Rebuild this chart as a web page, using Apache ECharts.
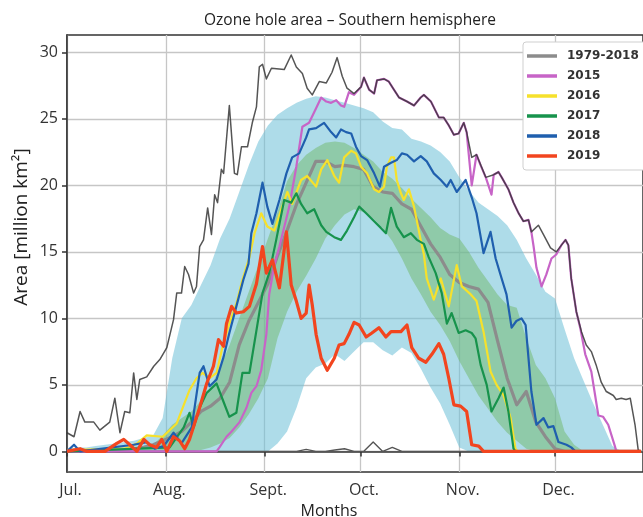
<!DOCTYPE html>
<html>
<head>
<meta charset="utf-8">
<script src="https://cdn.jsdelivr.net/npm/echarts@6/dist/echarts.min.js"></script>
<style>
html,body{margin:0;padding:0;background:#fff;}
#chart{width:643px;height:517px;}
</style>
</head>
<body>
<div id="chart"></div>
<script>
// x = day counted from 1 July
const monthTicks = [0,31,62,92,123,153];
const monthLabels = ['Jul.','Aug.','Sept.','Oct.','Nov.','Dec.'];
const yTicks = [0,5,10,15,20,25,30];

// climatology 1979-2018 sampled every 3 days
const days = [0,3,6,9,12,15,18,21,24,27,30,33,36,39,42,45,48,51,54,57,60,63,66,69,72,75,78,81,84,87,90,93,96,99,102,105,108,111,114,117,120,123,126,129,132,135,138,141,144,147,150,153,156,159,162,165,168,171,174,177,180];
const recMin = [0,0,0,0,0,0,0,0,0,0,0,0,0,0,0,0,0,0,0,0,0,0,0,0,0,0.15,0,0,0.1,0.2,0,0,0.7,0,0.3,0,0,0,0,0,0,0,0,0,0,0,0,0,0,0,0,0,0,0,0,0,0,0,0,0,0];
const meanVals = [0.05,0.05,0.05,0.05,0.05,0.05,0.1,0.2,0.3,0.5,0.8,1.1,1.5,2.2,3.0,3.4,4.0,5.2,8.0,9.8,11.2,12.6,14.7,16.6,18.6,20.2,21.8,21.8,21.4,21.5,21.4,21.2,19.9,19.5,19.4,18.6,18.2,16.9,15.6,14.6,13.3,12.7,12.4,12.2,11.2,8.3,5.5,3.5,4.5,2.2,1.1,0.2,0,0,0,0,0,0,0,0,0];
const p10 = [0,0,0,0,0,0,0,0,0,0,0,0,0,0,0,0,0,0,0,0,0,0,0.6,1.5,3.3,5.5,6.3,6.6,7.3,6.8,7.5,8.2,8.2,7.6,7.2,7.8,7.4,6.2,4.8,3.6,2.0,0.3,0,0,0,0,0,0,0,0,0,0,0,0,0,0,0,0,0,0,0];
const p90 = [0.2,0.3,0.3,0.4,0.5,0.6,0.7,0.8,1.0,1.2,2.5,7.0,10.0,11.0,12.5,14.0,16.0,17.5,19.5,21.5,23.3,24.5,25.3,25.8,26.2,26.5,26.7,26.6,26.4,26.2,26.0,25.8,25.5,24.8,24.3,24.2,23.5,23.3,23.0,22.5,21.8,20.6,19.6,18.7,18.2,17.7,17.0,15.9,14.5,13.3,12.0,11.5,9.2,7.0,5.3,3.6,2.0,0.4,0,0,0];
const p30 = [0,0,0,0,0,0,0,0,0,0,0,0,0,0,0.1,0.3,0.6,1.0,1.8,2.8,4.0,5.5,8.5,10.5,12.0,13.2,14.5,16.0,17.0,17.8,18.2,18.0,17.5,16.8,15.8,14.5,13.0,11.8,10.5,9.5,8.3,6.8,5.5,4.2,3.2,2.2,1.4,0.8,0.2,0,0,0,0,0,0,0,0,0,0,0,0];
const p70 = [0,0,0,0,0,0,0,0,0.2,0.5,1.2,2.0,2.5,3.0,3.8,4.8,6.3,8.0,10.0,12.0,14.0,16.0,18.0,20.3,21.5,22.3,22.8,23.2,23.3,23.2,22.8,22.3,21.8,21.0,20.5,19.8,19.0,18.3,17.6,16.8,16.3,16.0,15.0,13.8,12.8,11.8,11.0,10.8,8.5,6.5,5.5,4.0,1.5,0.5,0,0,0,0,0,0,0];

// record maximum 1979-2018
const maxDays = [0,2.2,4.1,5.6,8.4,10.3,13.4,15,16.6,18.1,19.7,20.9,21.9,22.8,25,27.2,29.1,31.3,33.4,34.4,35.9,36.9,38.1,39.7,40.6,41.6,42.8,44.1,45.3,46.3,47.2,48.4,49.1,50.9,52.5,53.4,54.7,56.6,58.1,59.4,60.3,61.3,62.5,64.1,68.1,70.3,71.9,73.8,75.3,76.9,79.1,81.3,83.1,84.7,86.3,87.8,90,92.2,93.1,94.7,96.3,97.2,99.4,100.9,102.5,104.1,106.6,108.8,110.9,111.9,114.1,116.6,118.1,119.7,121.3,122.8,124.4,125.3,126.9,128.4,131.3,133.8,135.3,136.3,138.4,140,141.6,143.1,144.7,145.6,147.8,149.4,151.6,153.4,156.3,157.2,158.1,159.7,161.3,162.8,164.4,165.9,167.5,169.1,171.3,172.2,173.8,175.3,176.6,178.1,179.1,180];
const maxVals = [1.4,1.1,3.0,2.2,2.2,1.6,2.2,4.0,1.4,3.0,2.9,5.9,3.9,5.4,5.6,6.4,6.9,7.8,9.9,11.9,11.9,13.9,13.3,11.9,12.4,15.4,15.9,18.3,16.3,19.3,18.7,21.2,20.9,26.0,20.9,20.8,22.9,22.9,24.7,25.9,28.9,29.1,28.0,28.8,28.7,29.8,28.9,28.4,27.3,26.8,27.8,27.7,28.5,29.6,28.2,27.3,26.9,27.4,28.1,27.2,26.9,27.9,28.0,27.8,27.2,26.6,26.3,26.0,26.6,26.8,26.3,25.1,25.1,24.5,23.8,23.9,24.7,24.0,22.1,22.3,20.6,20.8,21.0,20.6,19.7,18.7,17.9,17.3,17.4,16.5,17.0,16.3,15.3,15.0,15.9,15.5,13.0,10.5,9.0,8.0,7.5,6.5,5.2,4.5,4.2,3.9,4.0,3.9,4.0,2.0,0.1,0];

// individual years
const d2015 = [0,46.9,47.8,50,51.6,54.1,56.3,57.8,59.4,60.9,62.5,63.4,65,66.6,69.7,71.9,73.8,75.9,78.1,79.7,81.3,82.8,84.4,85.9,86.9,88.4,90,92.2,93.1,94.7,96.3,97.2,99.4,100.9,102.5,104.1,106.6,108.8,110.9,111.9,114.1,116.6,118.1,119.7,121.3,122.8,124.4,125.3,126.9,128.4,129.7,131.3,133.1,133.8,135.3,136.3,138.4,140,141.6,143.1,144.7,145.6,146.3,147.2,148.8,150.3,151.9,153.4,155,156.3,157.2,158.1,159.7,160.9,162.5,164.4,166.6,168.1,169.7,171.9,172.2,180];
const v2015 = [0,0,0.3,1.1,1.5,2.2,3.3,4.4,4.9,6.1,8.8,11.8,14.0,15.4,18.4,21.4,24.4,24.7,25.8,26.6,26.3,26.2,26.4,26.0,25.9,27.0,26.8,27.4,28.1,27.2,26.9,27.9,28.0,27.8,27.2,26.6,26.3,26.0,26.6,26.8,26.3,25.1,25.1,24.5,23.8,23.9,24.7,24.0,20.0,22.3,21.5,20.6,19.3,20.8,21.0,20.6,19.7,18.7,17.9,17.3,17.4,16.5,15.4,13.8,12.4,13.3,14.5,14.8,15.5,15.9,15.5,13.0,10.5,9.3,7.3,6.0,2.7,2.6,2.0,0.3,0,0];
const d2016 = [0,18,22,25,30,34.4,38.4,40.6,42.5,44.7,46.9,48.8,50.9,53.1,55,57.2,58.8,60.9,62.8,65,67.2,69.1,70.6,73.4,75.3,78.1,79.7,81.6,83.8,85.3,86.9,89.1,90.6,92.2,94.1,96.3,97.8,99.4,100.3,101.6,102.5,103.4,104.7,105.6,107.2,108.8,110.9,111.9,112.8,115,117.2,119.7,122.2,123.8,126.6,128.4,130.6,132.8,134.7,136.9,139.1,140.6,141.3,180];
const v2016 = [0.1,0.2,0.6,1.2,1.1,2.1,4.6,5.5,5.9,5.5,5.9,7.9,9.6,11.1,12.9,14.6,16.4,17.9,16.9,16.6,18.2,19.5,18.6,20.4,20.7,19.9,21.2,21.9,20.7,20.2,22.1,22.6,22.4,21.4,20.9,19.7,19.5,19.9,21.4,22.1,22.1,20.4,19.4,18.9,19.7,18.4,15.9,14.8,13.0,11.4,13.0,10.9,14.0,12.4,11.8,11.3,9.0,6.0,5.0,4.2,2.5,0.2,0,0];
const d2017 = [0,32.2,36.6,38.4,39.7,41.6,43.8,46.9,48.8,50.9,53.1,55,57.2,59.4,61.3,63.4,65.6,68.1,70.3,71.9,73.4,75.3,77.5,79.7,81.3,83.8,85.9,87.8,90,91.6,93.8,96.3,98.4,100,101.6,103.4,105.6,107.8,109.7,111.9,113.4,115.6,117.5,119.1,120.6,122.8,125,126.9,128.1,129.7,131.6,133.1,135.3,136.9,138.4,140,140.6,180];
const v2017 = [0,0.3,1.8,2.9,1.8,3.3,4.4,5.1,3.9,2.6,2.9,5.9,5.9,9.1,11.9,13.4,15.9,18.9,18.7,19.4,18.6,17.9,18.2,17.0,16.5,16.1,15.9,16.6,17.6,18.4,17.9,17.3,16.8,16.4,18.3,16.9,16.1,16.4,15.9,15.6,14.6,13.4,11.9,9.6,10.4,8.9,9.1,8.9,8.5,6.5,5.0,3.0,4.0,4.8,3.0,0.2,0,0];
const d2018 = [0,2.2,4.1,20.9,25,27.5,30.3,33.4,35.9,39.1,41.6,42.8,44.7,46.9,49.1,50.9,53.1,55.3,56.9,57.8,59.4,61.3,62.8,64.4,66.6,68.8,70.6,72.8,75,75.9,78.1,80.6,82.8,84.4,85.9,87.5,89.1,90.6,92.2,94.1,96.3,98.1,99.4,101.6,103.4,105,106.6,108.8,110.9,112.8,115,117.2,119.1,120.3,122.2,125,126.9,128.4,130.6,132.8,134.4,135.9,137.8,139.4,140.9,142.5,143.8,144.7,145.6,147.2,149.4,150.9,152.5,154.1,156.6,158.1,159.4,180];
const v2018 = [0,0.5,0,0.5,0.7,0.2,0.4,1.4,0.6,1.8,5.9,6.4,4.9,5.4,7.1,8.9,10.9,12.9,14.1,16.4,17.9,20.2,18.4,17.1,18.9,20.9,22.1,22.4,23.6,24.2,24.3,24.7,24.0,23.6,24.2,24.0,23.9,22.9,22.2,21.9,20.9,19.9,21.4,21.7,21.9,22.4,22.3,21.8,22.2,21.8,20.9,20.4,19.9,20.4,19.5,20.4,19.1,17.9,14.9,16.5,14.5,13.3,11.8,9.3,9.8,10.0,9.5,7.0,4.5,2.0,2.5,1.8,1.9,0.7,0.5,0.3,0,0];
const d2019 = [0,4.1,6.3,11.9,15.6,17.8,19.7,21.9,24.1,25.9,28.1,29.7,31.3,33.4,35.3,36.9,38.4,40,41.6,43.8,45.9,47.5,49.1,50,51.6,53.1,55.3,57.2,59.4,61.3,62.5,64.4,66.6,68.8,70.3,71.9,73.4,75,75.9,76.9,78.1,79.7,81.6,83.8,85.3,86.9,88.4,90,91.6,93.8,95.6,97.8,100,101.6,104.7,106.6,108.1,110.3,112.5,114.4,116.6,118.1,119.7,121.3,123.4,125.3,126.9,129.1,130.6,180];
const v2019 = [0,0.2,0,0,0.6,0.9,0.5,0,0.9,0.5,0.3,0.9,0,1.1,0.8,0.2,0.9,2.1,3.3,5.1,6.4,8.4,7.9,9.6,10.9,10.4,10.5,10.9,12.6,15.4,13.4,14.4,12.3,16.5,12.5,11.3,10.0,10.4,12.5,11.0,8.8,7.0,6.1,7.0,8.0,8.1,8.8,9.7,9.5,8.6,8.9,9.3,8.6,9.0,9.0,9.5,7.8,7.0,6.7,7.3,8.1,7.3,5.5,3.5,3.4,3.0,0.5,0.4,0,0];

const zip = (xs, vs) => xs.map((d, i) => [d, vs[i]]);
// value first so that stacking is done on the y value
const revZip = (xs, vs) => xs.map((d, i) => [vs[i], d]);
const diff = (hi, lo) => hi.map((v, i) => Math.max(0, v - lo[i]));

const FONT = '"Open Sans", "Noto Sans", sans-serif';

function lineSeries(name, xs, vs, color, width) {
  return {
    name: name, type: 'line', data: zip(xs, vs), symbol: 'none', showSymbol: false,
    lineStyle: { color: color, width: width, join: 'round' }, itemStyle: { color: color },
    silent: true, animation: false
  };
}
function bandSeries(name, vals, stack, area) {
  const s = {
    name: name, type: 'line', data: revZip(days, vals), encode: { x: 1, y: 0 },
    stack: stack, symbol: 'none', showSymbol: false, silent: true, animation: false,
    lineStyle: { width: 0, opacity: 0 }
  };
  if (area) s.areaStyle = { color: area, opacity: 1 };
  return s;
}

const chart = echarts.init(document.getElementById('chart'), null, { renderer: 'canvas' });
chart.setOption({
  animation: false,
  backgroundColor: '#fff',
  grid: { left: 67, right: -2, top: 35, bottom: 45, show: true, borderColor: '#333', borderWidth: 1.5, backgroundColor: 'transparent' },
  legend: {
    orient: 'vertical', left: 523, top: 42,
    data: ['1979-2018', '2015', '2016', '2017', '2018', '2019'],
    icon: 'rect',
    backgroundColor: '#fff', borderColor: '#cfcfcf', borderWidth: 1, borderRadius: 3,
    padding: [7, 8, 7, 4], itemWidth: 30, itemHeight: 3.5, itemGap: 6,
    textStyle: { fontFamily: 'DejaVu Sans', fontWeight: 'bold', fontSize: 12, color: '#333', padding: [0, 0, 0, 5], lineHeight: 14 }
  },
  xAxis: {
    type: 'value', min: 0, max: 180.6,
    axisLine: { show: true, lineStyle: { color: '#333', width: 1.5 } },
    axisTick: { show: true, customValues: monthTicks, length: 5, lineStyle: { color: '#333', width: 1.5 } },
    axisLabel: { customValues: monthTicks, margin: 10, fontFamily: FONT, fontSize: 16, color: '#333', padding: [0, 0, 0, 7],
      formatter: v => monthLabels[monthTicks.indexOf(v)] || '' },
    splitLine: { show: true, lineStyle: { color: '#c6c6c6', width: 1.3 } }
  },
  yAxis: {
    type: 'value', min: -1.55, max: 31.3,
    axisLine: { show: true, lineStyle: { color: '#333', width: 1.5 } },
    axisTick: { show: true, customValues: yTicks, length: 5, lineStyle: { color: '#333', width: 1.5 } },
    axisLabel: { customValues: yTicks, margin: 9, fontFamily: FONT, fontSize: 16, color: '#333' },
    splitLine: { show: true, lineStyle: { color: '#c6c6c6', width: 1.3 } }
  },
  graphic: [
    { type: 'text', x: 350, y: 21,
      style: { text: 'Ozone hole area \u2013 Southern hemisphere', fontFamily: FONT, fontSize: 15.5, fill: '#222', align: 'center', verticalAlign: 'middle' } },
    { type: 'text', x: 22, y: 227, rotation: Math.PI / 2,
      style: { text: 'Area [million km\u00b2]', fontFamily: FONT, fontSize: 19, fill: '#222', align: 'center', verticalAlign: 'middle' } },
    { type: 'text', x: 329, y: 511,
      style: { text: 'Months', fontFamily: FONT, fontSize: 16, fill: '#222', align: 'center', verticalAlign: 'middle' } }
  ],
  series: [
    bandSeries('p10', p10, 'blue', null),
    bandSeries('p10-p90', diff(p90, p10), 'blue', 'rgba(110,192,216,0.56)'),
    bandSeries('p30', p30, 'green', null),
    bandSeries('p30-p70', diff(p70, p30), 'green', 'rgba(112,184,106,0.5)'),
    lineSeries('minimum', days, recMin, '#555', 1.4),
    lineSeries('1979-2018', days, meanVals, '#8c8c8c', 3.2),
    lineSeries('2015', d2015, v2015, '#c764c7', 2.2),
    lineSeries('maximum', maxDays, maxVals, 'rgba(55,55,55,0.85)', 1.5),
    lineSeries('2016', d2016, v2016, '#f6e12c', 2.2),
    lineSeries('2017', d2017, v2017, '#17934c', 2.2),
    lineSeries('2018', d2018, v2018, '#1f5fae', 2.2),
    lineSeries('2019', d2019, v2019, '#f2451f', 3.2)
  ]
});
</script>
</body>
</html>
